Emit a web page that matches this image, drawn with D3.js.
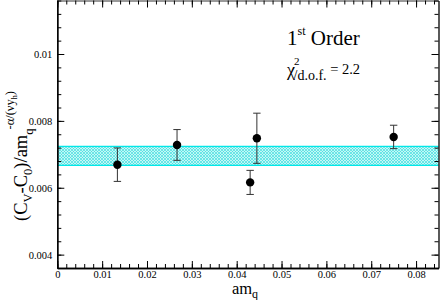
<!DOCTYPE html>
<html>
<head>
<meta charset="utf-8">
<script src="https://cdn.jsdelivr.net/npm/d3@7"></script>
<style>
  body { margin: 0; background: #fff; }
</style>
</head>
<body>
<div id="chart"></div>
<script>
// data
const amq = [0.0134, 0.0267, 0.0430, 0.0445, 0.0750];
const cv = [0.00669, 0.00728, 0.00616, 0.00748, 0.00752];
const err = [0.00050, 0.00046, 0.00036, 0.00075, 0.00035];
const band = [0.00667, 0.00724];
const xTicks = [0, 0.01, 0.02, 0.03, 0.04, 0.05, 0.06, 0.07, 0.08];
const yTicks = [0.004, 0.006, 0.008, 0.01];

const W = 440, H = 300;
const margin = {top: 0.5, right: 1.5, bottom: 32, left: 57.3};
const serif = "'Liberation Serif', 'Times New Roman', Times, serif";

const svg = d3.select("#chart").append("svg")
    .attr("width", W)
    .attr("height", H)
    .attr("font-family", serif);

const x = d3.scaleLinear().domain([0, 0.085]).range([margin.left, W - margin.right]);
const y = d3.scaleLinear().domain([0.0036, 0.0116]).range([H - margin.bottom, margin.top]);

// hatch pattern for the fit band
const defs = svg.append("defs");
const pat = defs.append("pattern")
    .attr("id", "hatch")
    .attr("patternUnits", "userSpaceOnUse")
    .attr("width", 3)
    .attr("height", 3);
pat.append("rect").attr("width", 3).attr("height", 3).attr("fill", "#c4f7f7");
pat.append("path")
    .attr("d", "M0,0L3,3M3,0L0,3")
    .attr("stroke", "#45dede")
    .attr("stroke-width", 0.7);

svg.append("rect")
    .attr("x", x(0))
    .attr("y", y(band[1]))
    .attr("width", x(0.085) - x(0))
    .attr("height", y(band[0]) - y(band[1]))
    .attr("fill", "url(#hatch)");
svg.selectAll(".bandline")
    .data(band)
    .join("line")
    .attr("x1", x(0)).attr("x2", x(0.085))
    .attr("y1", d => y(d)).attr("y2", d => y(d))
    .attr("stroke", "#00e8e8")
    .attr("stroke-width", 1.2);

// axes, ticks pointing inwards, mirrored on the opposite sides
const xMinor = d3.range(0, 0.0851, 0.002);
const yMinor = d3.range(0.0036, 0.01161, 0.0004);

function addAxis(axis, transform) {
    return svg.append("g")
        .attr("transform", transform)
        .call(axis)
        .attr("font-family", serif)
        .call(g => g.select(".domain").attr("stroke", "#000").attr("stroke-width", 1.3))
        .call(g => g.selectAll(".tick line").attr("stroke", "#000"));
}

const yBottom = H - margin.bottom, yTop = margin.top;
const xLeft = margin.left, xRight = W - margin.right;

addAxis(d3.axisBottom(x).tickValues(xMinor).tickSize(-4).tickFormat("").tickSizeOuter(0), `translate(0,${yBottom})`);
addAxis(d3.axisBottom(x).tickValues(xTicks).tickSize(-7).tickSizeOuter(0)
    .tickFormat(d => d === 0 ? "0" : d3.format(".2~f")(d)), `translate(0,${yBottom})`)
    .call(g => g.selectAll(".tick text").attr("y", 2.5).attr("font-size", 10.5));
addAxis(d3.axisTop(x).tickValues(xMinor).tickSize(-4).tickFormat("").tickSizeOuter(0), `translate(0,${yTop})`)
    .call(g => g.select(".domain").attr("stroke", "#999").attr("stroke-width", 2));
addAxis(d3.axisTop(x).tickValues(xTicks).tickSize(-7).tickFormat("").tickSizeOuter(0), `translate(0,${yTop})`)
    .call(g => g.select(".domain").remove());

addAxis(d3.axisLeft(y).tickValues(yMinor).tickSize(-4).tickFormat("").tickSizeOuter(0), `translate(${xLeft},0)`);
addAxis(d3.axisLeft(y).tickValues(yTicks).tickSize(-7).tickSizeOuter(0)
    .tickFormat(d => d3.format(".3~f")(d)), `translate(${xLeft},0)`)
    .call(g => g.selectAll(".tick text").attr("x", -5).attr("font-size", 10.5));
addAxis(d3.axisRight(y).tickValues(yMinor).tickSize(-4).tickFormat("").tickSizeOuter(0), `translate(${xRight},0)`);
addAxis(d3.axisRight(y).tickValues(yTicks).tickSize(-7).tickFormat("").tickSizeOuter(0), `translate(${xRight},0)`)
    .call(g => g.select(".domain").remove());

// error bars
const pts = amq.map((a, i) => ({x: a, y: cv[i], e: err[i]}));
const eb = svg.append("g").attr("stroke", "#333").attr("stroke-width", 1);
eb.selectAll(".v").data(pts).join("line")
    .attr("x1", d => x(d.x)).attr("x2", d => x(d.x))
    .attr("y1", d => y(d.y - d.e)).attr("y2", d => y(d.y + d.e));
eb.selectAll(".cap").data(pts.flatMap(d => [[d.x, d.y - d.e], [d.x, d.y + d.e]])).join("line")
    .attr("x1", d => x(d[0]) - 3.7).attr("x2", d => x(d[0]) + 3.7)
    .attr("y1", d => y(d[1])).attr("y2", d => y(d[1]));

svg.append("g").selectAll("circle").data(pts).join("circle")
    .attr("cx", d => x(d.x))
    .attr("cy", d => y(d.y))
    .attr("r", 4.2)
    .attr("fill", "#000");

// axis titles
const xt = svg.append("text")
    .attr("x", 245).attr("y", 294)
    .attr("text-anchor", "middle")
    .attr("font-size", 16.5);
xt.append("tspan").text("am");
xt.append("tspan").attr("dy", 4).attr("font-size", 12).text("q");

const yt = svg.append("text")
    .attr("transform", "translate(27,156) rotate(-90)")
    .attr("text-anchor", "middle")
    .attr("font-size", 18.5);
yt.append("tspan").text("(C");
yt.append("tspan").attr("dy", 5).attr("font-size", 12.5).text("V");
yt.append("tspan").attr("dy", -5).text("-C");
yt.append("tspan").attr("dy", 5).attr("font-size", 12.5).text("0");
yt.append("tspan").attr("dy", -5).text(")/am");
yt.append("tspan").attr("dy", 6).attr("font-size", 12.5).text("q");
yt.append("tspan").attr("dy", -19).attr("dx", -1).attr("font-size", 12.5).text("-α/(νy");
yt.append("tspan").attr("dy", 3).attr("font-size", 8).text("h");
yt.append("tspan").attr("dy", -3).attr("font-size", 12.5).text(")");

// annotations
const t1 = svg.append("text").attr("x", 287).attr("y", 45).attr("font-size", 21);
t1.append("tspan").text("1");
t1.append("tspan").attr("dy", -10).attr("font-size", 12).text("st");
t1.append("tspan").attr("dy", 10).text(" Order");

const t2 = svg.append("text").attr("x", 287).attr("y", 76).attr("font-size", 18);
t2.append("tspan").text("χ");
t2.append("tspan").attr("dy", -11).attr("dx", -1).attr("font-size", 11).text("2");
t2.append("tspan").attr("dy", 15).attr("dx", -6).attr("font-size", 14).text("/d.o.f.");
t2.append("tspan").attr("dy", -6).attr("font-size", 14.5).text(" = 2.2");
</script>
</body>
</html>
